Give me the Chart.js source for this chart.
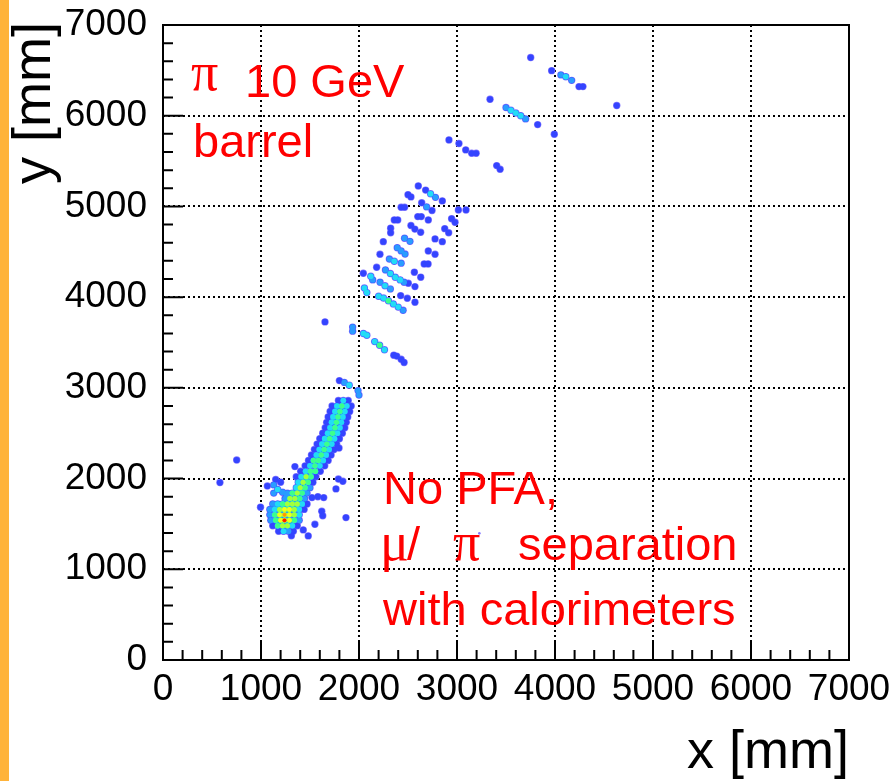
<!DOCTYPE html>
<html>
<head>
<meta charset="utf-8">
<script src="https://cdn.jsdelivr.net/npm/chart.js@4.4.0/dist/chart.umd.min.js"></script>
<style>
  html, body { margin: 0; padding: 0; background: #fff; }
  canvas { display: block; }
</style>
</head>
<body>
<canvas id="hits" width="894" height="781"></canvas>
<script>
// hits as [x mm, y mm, relative energy]
// dense part of the shower, rows of cells along the track
const showerBand = [
  [1790,2860,.2],[1840,2860,.4],[1890,2860,.2],
  [1725,2800,.15],[1775,2800,.45],[1825,2800,.62],[1875,2800,.5],[1920,2800,.2],
  [1705,2740,.15],[1755,2740,.45],[1805,2740,.62],[1855,2740,.5],[1905,2740,.2],
  [1685,2680,.2],[1735,2680,.45],[1785,2680,.6],[1835,2680,.45],[1885,2680,.25],
  [1670,2620,.15],[1720,2620,.45],[1770,2620,.58],[1820,2620,.5],[1870,2620,.2],
  [1655,2560,.2],[1705,2560,.5],[1755,2560,.6],[1805,2560,.45],[1855,2560,.2],
  [1630,2500,.15],[1680,2500,.45],[1730,2500,.6],[1780,2500,.5],[1830,2500,.15],
  [1600,2440,.2],[1650,2440,.5],[1700,2440,.62],[1750,2440,.45],[1800,2440,.15],
  [1572,2380,.2],[1622,2380,.5],[1672,2380,.6],[1722,2380,.45],[1772,2380,.2],
  [1545,2320,.15],[1595,2320,.5],[1645,2320,.62],[1695,2320,.5],[1745,2320,.2],
  [1515,2260,.2],[1565,2260,.5],[1615,2260,.6],[1665,2260,.5],[1715,2260,.2],
  [1485,2200,.2],[1535,2200,.55],[1585,2200,.62],[1635,2200,.5],[1685,2200,.2],
  [1450,2140,.2],[1500,2140,.5],[1550,2140,.62],[1600,2140,.5],[1650,2140,.2],
  [1405,2080,.2],[1455,2080,.5],[1505,2080,.62],[1555,2080,.55],[1605,2080,.2],
  [1360,2020,.2],[1410,2020,.5],[1460,2020,.64],[1510,2020,.55],[1560,2020,.2],
  [1380,1960,.4],[1430,1960,.65],[1480,1960,.55],[1530,1960,.25],
  [1360,1900,.5],[1400,1900,.68],[1450,1900,.6],[1500,1900,.3],
  [1270,1840,.3],[1320,1840,.6],[1370,1840,.7],[1420,1840,.6],[1470,1840,.3],
  [1245,1780,.3],[1295,1780,.65],[1345,1780,.72],[1395,1780,.62],[1445,1780,.3]
];
// branch left of the track
const showerBranch = [
  [1150,1990,.2],[1200,1960,.15],[1130,1930,.3],[1170,1880,.4],
  [1220,1850,.35],[1130,1840,.3],[1260,1820,.3]
];
// hottest part near the start of the shower
const showerCoreHits = [
  [1120,1720,.3],[1170,1720,.5],[1220,1720,.6],[1270,1720,.7],[1320,1720,.72],[1370,1720,.65],[1420,1720,.4],[1470,1720,.2],
  [1090,1660,.3],[1140,1660,.5],[1190,1660,.7],[1240,1660,.8],[1290,1660,.78],[1340,1660,.7],[1390,1660,.5],[1440,1660,.2],
  [1090,1600,.35],[1140,1600,.55],[1190,1600,.8],[1240,1600,.92],[1290,1600,.85],[1340,1600,.65],[1390,1600,.4],
  [1100,1540,.3],[1150,1540,.6],[1200,1540,.85],[1240,1540,1.0],[1290,1540,.8],[1340,1540,.55],[1390,1540,.3],
  [1120,1480,.25],[1170,1480,.55],[1220,1480,.75],[1270,1480,.7],[1320,1480,.5],[1370,1480,.25],
  [1180,1420,.25],[1230,1420,.4],[1280,1420,.35],[1330,1420,.2],
  [1310,1370,.2]
];
// small isolated deposits around the shower
const showerHalo = [
  [1520,1790,.25],[1580,1800,.25],[1640,1790,.2],
  [1620,1640,.15],[1630,1590,.15],[1765,1886,.2],
  [1790,1995,.2],[1835,1970,.2],[1867,1570,.15],
  [1550,1496,.15],[1482,1368,.15],[1431,1434,.15],
  [1346,2132,.15],[1065,1918,.15],[995,1685,.15],
  [1796,2337,.15],[752,2205,.15],[581,1956,.15],
  [1800,3080,.25],[1850,3060,.35],[1900,3030,.45],
  [1990,2970,.3],[2000,2920,.3],[3228,1396,.05]
];
// layers of the barrel between 3000 and 5300 mm
const layerHits = [
  [2605,5226,.2],[2500,5130,.2],[2530,5105,.2],
  [2680,5180,.25],[2730,5140,.4],[2780,5100,.3],[2850,5061,.15],
  [2430,4991,.2],[2465,4991,.2],
  [2640,5040,.25],[2690,4995,.3],[2745,4955,.25],
  [3014,4961,.15],[3092,4961,.15],
  [2360,4851,.2],[2395,4851,.2],[2600,4888,.2],[2635,4888,.2],[2707,4851,.15],
  [2945,4865,.2],[2980,4825,.2],
  [2323,4760,.2],[2323,4710,.2],[2530,4790,.25],[2570,4750,.25],[2629,4715,.15],
  [2875,4755,.2],[2915,4710,.2],[2248,4612,.15],
  [2465,4650,.35],[2520,4615,.35],[2776,4642,.15],[2850,4612,.15],
  [2390,4545,.3],[2430,4510,.3],[2470,4475,.3],[2214,4473,.15],
  [2707,4509,.15],[2776,4473,.15],
  [2310,4420,.3],[2360,4395,.4],[2430,4375,.35],[2180,4329,.15],
  [2665,4366,.2],[2705,4366,.2],
  [2270,4300,.35],[2320,4260,.5],[2370,4220,.45],[2420,4190,.4],[2460,4165,.3],
  [2044,4263,.15],[2120,4230,.4],[2140,4190,.35],
  [2565,4275,.25],[2630,4220,.25],[2503,4153,.15],[2571,4116,.15],
  [2215,4165,.35],[2265,4125,.4],[2320,4090,.35],
  [2055,4100,.5],[2080,4050,.5],
  [2425,4017,.15],[2493,3988,.15],[2571,3944,.15],
  [2200,4010,.4],[2250,3990,.5],[2300,3960,.55],[2350,3925,.5],[2400,3890,.45],[2450,3855,.35],
  [1653,3727,.15],[1935,3670,.3],[1935,3625,.3],
  [2045,3600,.5],[2080,3580,.45],
  [2160,3510,.45],[2210,3470,.55],[2260,3420,.4],
  [2355,3360,.2],[2385,3350,.2],[2430,3315,.25],[2460,3280,.25]
];
// outer hits above 5400 mm
const outerHits = [
  [3752,6641,.15],[3966,6497,.15],
  [4060,6450,.35],[4110,6430,.4],[4170,6390,.3],
  [4245,6321,.25],[4285,6321,.25],[4630,6112,.15],[3337,6181,.15],
  [3500,6090,.3],[3550,6060,.4],[3600,6030,.5],[3650,6000,.4],[3700,5965,.3],
  [3823,5902,.15],[3993,5796,.15],
  [2918,5733,.15],[3020,5693,.15],[3089,5623,.15],
  [3150,5586,.25],[3195,5586,.25],
  [3405,5450,.25],[3440,5410,.25]
];

const allHits = [].concat(showerBand, showerBranch, showerCoreHits, showerHalo, layerHits, outerHits);

// contour levels
const levelCuts = [0, 0.14, 0.28, 0.4, 0.52, 0.64, 0.76, 0.86, 0.94];
const levelColors = ['#8478ff', '#3444ff', '#2a9cff', '#22dcf6', '#3cff8c', '#a6ff3a', '#f2ff1a', '#ff9a00', '#ff1800'];
const levelRadius = [3.7, 3.1, 2.9, 2.8, 2.7, 2.5, 2.3, 2.1, 1.9];

const axisMin = 0, axisMax = 7000, majorStep = 1000, minorStep = 200;

const datasets = levelCuts.map((cut, i) => ({
  label: 'level ' + i,
  data: allHits.filter(h => h[2] >= cut).map(h => ({x: h[0], y: h[1], e: h[2]})),
  // very faint single cells are drawn as a speck
  pointRadius: c => (c.raw && c.raw.e < 0.1) ? 1.3 : levelRadius[i],
  pointHoverRadius: levelRadius[i],
  pointBackgroundColor: levelColors[i],
  pointBorderWidth: 0,
  showLine: false,
  order: levelCuts.length - i
}));

const sans = '"Liberation Sans", Arial, sans-serif';
const serif = '"Liberation Serif", "Times New Roman", serif';

const rootFrame = {
  id: 'rootFrame',
  beforeDraw(chart) {
    const ctx = chart.ctx;
    ctx.save();
    ctx.fillStyle = '#fff';
    ctx.fillRect(0, 0, chart.width, chart.height);
    ctx.fillStyle = '#ffb33a';
    ctx.fillRect(0, 0, 9, chart.height);
    ctx.restore();
  },
  afterDraw(chart) {
    const ctx = chart.ctx;
    const a = chart.chartArea;
    const xs = chart.scales.x, ys = chart.scales.y;
    ctx.save();
    ctx.strokeStyle = '#000';
    ctx.lineWidth = 2;
    ctx.strokeRect(a.left, a.top, a.right - a.left, a.bottom - a.top);
    // ticks inside the frame
    ctx.beginPath();
    for (let v = axisMin; v <= axisMax; v += minorStep) {
      const len = v % majorStep === 0 ? 20 : 10;
      const px = xs.getPixelForValue(v);
      ctx.moveTo(px, a.bottom);
      ctx.lineTo(px, a.bottom - len);
      const py = ys.getPixelForValue(v);
      ctx.moveTo(a.left, py);
      ctx.lineTo(a.left + len, py);
    }
    ctx.stroke();

    // axis titles
    ctx.fillStyle = '#000';
    ctx.font = '54px ' + sans;
    ctx.textAlign = 'right';
    ctx.textBaseline = 'alphabetic';
    ctx.fillText('x [mm]', a.right, 768);
    ctx.save();
    ctx.translate(50, 22);
    ctx.rotate(-Math.PI / 2);
    ctx.fillText('y [mm]', 0, 0);
    ctx.restore();

    // red labels
    ctx.fillStyle = '#ff0000';
    ctx.textAlign = 'left';
    ctx.font = '54px ' + serif;
    ctx.fillText('\u03c0', 191, 90);
    ctx.font = '47px ' + sans;
    ctx.fillText('10 GeV', 245, 97);
    ctx.fillText('barrel', 193, 157);
    ctx.fillText('No PFA,', 383, 504);
    ctx.font = '54px ' + serif;
    ctx.fillText('\u03bc', 380, 560);
    const muW = ctx.measureText('\u03bc').width;
    ctx.font = '47px ' + sans;
    ctx.fillText('/', 378 + muW, 560);
    ctx.font = '54px ' + serif;
    ctx.fillText('\u03c0', 453, 560);
    ctx.font = '47px ' + sans;
    ctx.fillText('separation', 518, 560);
    ctx.fillText('with calorimeters', 383, 625);
    ctx.restore();
  }
};

const plainTick = v => String(v);

new Chart(document.getElementById('hits'), {
  type: 'scatter',
  data: { datasets },
  options: {
    responsive: false,
    animation: false,
    devicePixelRatio: 1,
    layout: { padding: { left: 0, right: 45, top: 25, bottom: 0 } },
    plugins: { legend: { display: false }, tooltip: { enabled: false } },
    scales: {
      x: {
        type: 'linear', min: axisMin, max: axisMax,
        afterFit: s => { s.height = 121; s.paddingLeft = 0; s.paddingRight = 0; },
        ticks: { stepSize: majorStep, color: '#000', padding: 8, maxRotation: 0,
                 autoSkip: false, callback: plainTick,
                 font: { family: sans, size: 37 } },
        grid: { color: '#000', lineWidth: 2, drawTicks: false },
        border: { display: false, dash: [2, 3] }
      },
      y: {
        type: 'linear', min: axisMin, max: axisMax,
        afterFit: s => { s.width = 163; s.paddingTop = 0; s.paddingBottom = 0; },
        ticks: { stepSize: majorStep, color: '#000', padding: 16,
                 autoSkip: false, callback: plainTick,
                 font: { family: sans, size: 37 } },
        grid: { color: '#000', lineWidth: 2, drawTicks: false },
        border: { display: false, dash: [2, 3] }
      }
    }
  },
  plugins: [rootFrame]
});
</script>
</body>
</html>
